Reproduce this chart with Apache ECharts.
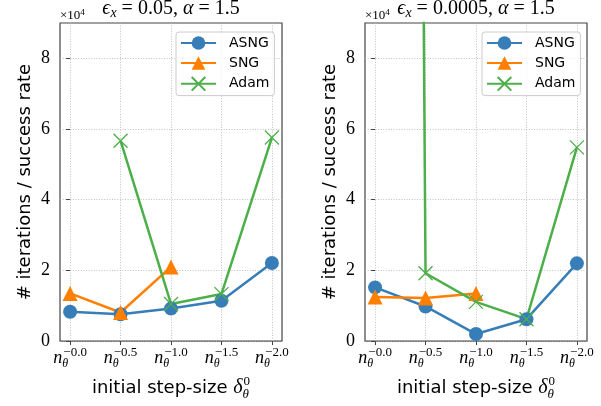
<!DOCTYPE html>
<html><head><meta charset="utf-8">
<script src="https://cdn.jsdelivr.net/npm/echarts@6/dist/echarts.min.js"></script>
<style>html,body{margin:0;padding:0;background:#fff}#c{width:601px;height:406px}</style>
</head><body><div id="c"></div>
<script>
// ---- data ----
const xPositions = [0, 1, 2, 3, 4];
const xTickExponents = ['−0.0', '−0.5', '−1.0', '−1.5', '−2.0'];
const yTickValues = [0, 20000, 40000, 60000, 80000];
const yTickLabels = ['0', '2', '4', '6', '8'];
const seriesNames = ['ASNG', 'SNG', 'Adam'];
// left panel: eps_x = 0.05
const leftASNG = [8300, 7600, 9200, 11400, 22100];
const leftSNG  = [13500, 8100, 21000, null, null];
const leftAdam = [null, 56700, 10500, 13300, 57600];
// right panel: eps_x = 0.0005
const rightASNG = [15200, 9800, 2000, 6200, 22000];
const rightSNG  = [12500, 12200, 13500, null, null];
const rightAdam = [2000000, 19200, 11100, 6200, 54800];

// ---- styles ----
const SERIF = '"Liberation Serif", "DejaVu Serif", serif';
const SANS = '"DejaVu Sans", sans-serif';
const COLORS = { ASNG: '#377eb8', SNG: '#ff7f00', Adam: '#4daf4a' };
const SYMBOLS = { ASNG: 'circle', SNG: 'triangle', Adam: 'path://M0,0L10,10M10,0L0,10' };
const SIZES = { ASNG: 14, SNG: 15, Adam: 14 };
const FRAME = '#444';

function makeSeries(name, values, gi) {
  const isX = name === 'Adam';
  return {
    name: name, type: 'line', xAxisIndex: gi, yAxisIndex: gi,
    data: values.map((v, i) => [xPositions[i], v]),
    symbol: SYMBOLS[name], symbolSize: SIZES[name], showSymbol: true,
    clip: true, connectNulls: false, animation: false,
    lineStyle: { color: COLORS[name], width: 2.5 },
    itemStyle: isX ? { color: COLORS[name], borderColor: COLORS[name], borderWidth: 1.3 } : { color: COLORS[name] },
    emphasis: { disabled: true }
  };
}

const tickRich = {
  n: { fontFamily: SERIF, fontStyle: 'italic', fontSize: 18, lineHeight: 24, verticalAlign: 'middle', align: 'left', color: '#000' },
  s: { fontFamily: SERIF, fontStyle: 'italic', fontSize: 12, lineHeight: 12, verticalAlign: 'bottom', align: 'left', width: 1, color: '#000' },
  p: { fontFamily: SERIF, fontSize: 13, lineHeight: 11, verticalAlign: 'top', align: 'left', color: '#000' }
};
const nameRich = {
  t: { fontFamily: SANS, fontSize: 18, lineHeight: 26, verticalAlign: 'middle', align: 'left', color: '#000' },
  d: { fontFamily: SERIF, fontStyle: 'italic', fontSize: 20, lineHeight: 26, verticalAlign: 'middle', align: 'left', color: '#000' },
  s: { fontFamily: SERIF, fontStyle: 'italic', fontSize: 13, lineHeight: 13, verticalAlign: 'bottom', align: 'left', width: 1, color: '#000' },
  p: { fontFamily: SERIF, fontSize: 13, lineHeight: 15, verticalAlign: 'top', align: 'left', color: '#000' }
};

function makeX(gi) {
  return {
    gridIndex: gi, type: 'value', min: -0.2, max: 4.2,
    axisLine: { show: false },
    axisTick: { show: true, inside: false, length: 4, customValues: xPositions, lineStyle: { color: FRAME, width: 1 } },
    axisLabel: {
      customValues: xPositions, margin: 5,
      formatter: v => '{n|n}{s|θ}{p|' + xTickExponents[Math.round(v)] + '}',
      rich: tickRich
    },
    splitLine: { show: true, lineStyle: { color: '#b0b0b0', width: 0.8, type: [1, 1.6] } },
    name: '{t|initial step-size }{d|δ}{s|θ}{p|0}',
    nameLocation: 'middle', nameGap: 30,
    nameTextStyle: { rich: nameRich }
  };
}
function makeY(gi) {
  return {
    gridIndex: gi, type: 'value', min: 0, max: 90000,
    axisLine: { show: false },
    axisTick: { show: true, inside: false, length: 4, customValues: yTickValues, lineStyle: { color: FRAME, width: 1 } },
    axisLabel: {
      customValues: yTickValues, margin: 10,
      formatter: v => yTickLabels[yTickValues.indexOf(v)],
      fontFamily: SERIF, fontSize: 18, color: '#000'
    },
    splitLine: { show: true, lineStyle: { color: '#b0b0b0', width: 0.8, type: [1, 1.6] } },
    name: '# iterations / success rate',
    nameLocation: 'middle', nameGap: 26,
    nameTextStyle: { fontFamily: SANS, fontSize: 18, color: '#000' }
  };
}
function makeLegend(left) {
  return {
    left: left, top: 32, orient: 'vertical', data: seriesNames,
    padding: [4, 5, 4, 4], itemWidth: 35, itemHeight: 17, itemGap: 6,
    backgroundColor: 'rgba(255,255,255,0.8)', borderColor: '#cccccc', borderWidth: 1, borderRadius: 3,
    textStyle: { fontFamily: SANS, fontSize: 14, color: '#000', padding: [0, 0, 0, 8] },
    selectedMode: false
  };
}
const titleRich = {
  e: { fontFamily: SERIF, fontStyle: 'italic', fontSize: 20, lineHeight: 22, verticalAlign: 'middle', align: 'left', fill: '#000' },
  x: { fontFamily: SERIF, fontStyle: 'italic', fontSize: 14, lineHeight: 14, verticalAlign: 'bottom', align: 'left', fill: '#000' },
  r: { fontFamily: SERIF, fontSize: 20, lineHeight: 22, verticalAlign: 'middle', align: 'left', fill: '#000' }
};
const expRich = {
  m: { fontFamily: SERIF, fontSize: 13, lineHeight: 15, verticalAlign: 'middle', align: 'left', fill: '#000' },
  s: { fontFamily: SERIF, fontSize: 9, lineHeight: 9, verticalAlign: 'top', align: 'left', fill: '#000' }
};
function titleText(cx, eps) {
  return { type: 'text', x: cx, y: 9, silent: true,
    style: { text: '{e|ϵ}{x|x}{r| = ' + eps + ', }{e|α}{r| = 1.5}', rich: titleRich,
      align: 'center', verticalAlign: 'middle', textAlign: 'center', textVerticalAlign: 'middle' } };
}
function expText(x) {
  return { type: 'text', x: x, y: 16, silent: true,
    style: { text: '{m|×10}{s|4}', rich: expRich,
      align: 'left', verticalAlign: 'middle', textAlign: 'left', textVerticalAlign: 'middle' } };
}

const chart = echarts.init(document.getElementById('c'), null, { renderer: 'canvas' });
chart.setOption({
  animation: false,
  backgroundColor: '#fff',
  grid: [
    { left: 60, top: 23, width: 222, height: 319, show: true, borderColor: FRAME, borderWidth: 1.2, backgroundColor: 'transparent' },
    { left: 365, top: 23, width: 222, height: 319, show: true, borderColor: FRAME, borderWidth: 1.2, backgroundColor: 'transparent' }
  ],
  xAxis: [makeX(0), makeX(1)],
  yAxis: [makeY(0), makeY(1)],
  legend: [makeLegend(176), makeLegend(482)],
  series: [
    makeSeries('ASNG', leftASNG, 0), makeSeries('SNG', leftSNG, 0), makeSeries('Adam', leftAdam, 0),
    makeSeries('ASNG', rightASNG, 1), makeSeries('SNG', rightSNG, 1), makeSeries('Adam', rightAdam, 1)
  ],
  graphic: [titleText(171, '0.05'), titleText(476, '0.0005'), expText(60), expText(365)]
});
</script>
</body></html>
